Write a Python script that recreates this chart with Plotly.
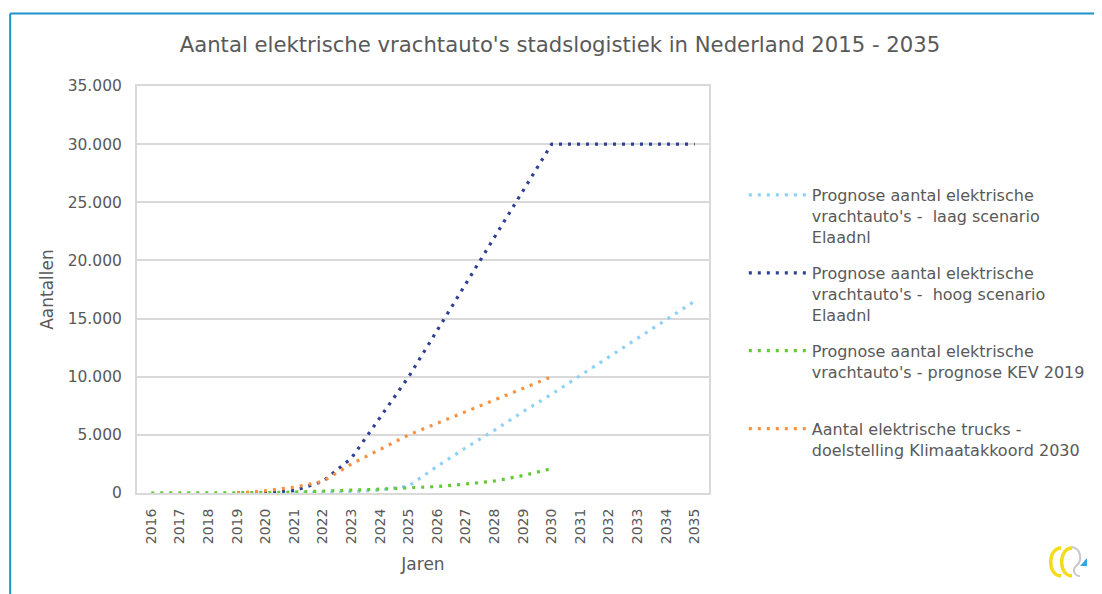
import plotly.graph_objects as go

years = [str(y) for y in range(2016, 2036)]

laag = [None, None, None, None, None, 0, 50, 100, 250, 600, 2300, 3900, 5400, 7000, 8500,
        10100, 11700, 13300, 14900, 16500]
hoog = [None, None, None, 0, 50, 200, 1000, 3000, 6500, 10000, 14000, 18000, 22000, 26000, 30000,
        30000, 30000, 30000, 30000, 30000]
kev = [0, 0, 0, 0, 30, 80, 150, 250, 330, 450, 550, 770, 1030, 1500, 2100,
       None, None, None, None, None]
klimaat = [None, None, None, 0, 200, 500, 1000, 2500, 3750, 5000, 6000, 7000, 8000, 9000, 10000,
           None, None, None, None, None]

names = [
    "Prognose aantal elektrische<br>vrachtauto's -  laag scenario<br>Elaadnl",
    "Prognose aantal elektrische<br>vrachtauto's -  hoog scenario<br>Elaadnl",
    "Prognose aantal elektrische<br>vrachtauto's - prognose KEV 2019<br>&nbsp;",
    "Aantal elektrische trucks -<br>doelstelling Klimaatakkoord 2030",
]
colors = ["#8DD1F8", "#2F3F93", "#62C834", "#F99240"]
series = [laag, hoog, kev, klimaat]

FONT = "DejaVu Sans"
GREY = "#595959"

# page body adds an 8px offset; work in figure coordinates
OFF = 8
W, H = 1102 - OFF, 594 - OFF
PL, PR, PT, PB = 137 - OFF, 712 - OFF, 86 - OFF, 493 - OFF
PW, PH = PR - PL, PB - PT


def px(x, y):
    """screen pixel -> paper coords"""
    return ((x - OFF) - PL) / PW, (PB - (y - OFF)) / PH


def path(pts_cmds):
    out = []
    for item in pts_cmds:
        if isinstance(item, str):
            out.append(item)
        else:
            xx, yy = px(*item)
            out.append(f"{xx:.5f},{yy:.5f}")
    return " ".join(out)


fig = go.Figure()
for i, (nm, c, s) in enumerate(zip(names, colors, series)):
    fig.add_trace(go.Scatter(
        x=years, y=s, name=nm, mode="lines", connectgaps=False,
        line=dict(color=c, width=3.2, dash="3px,6px"),
        legendgroup=f"g{i}",
    ))

bx0, by0 = px(9.5, 13.5)
bx1, by1 = px(1102, 594)
shapes = [
    dict(type="line", xref="paper", yref="paper", x0=bx0, x1=bx1, y0=by0, y1=by0,
         line=dict(color="#1E90CC", width=2)),
    dict(type="line", xref="paper", yref="paper", x0=bx0, x1=bx0, y0=by1, y1=by0,
         line=dict(color="#1E90CC", width=2)),
    # small logo
    dict(type="path", xref="paper", yref="paper",
         path=path(["M", (1066, 548), "C", (1052, 548), (1052, 576), (1066, 576)]),
         line=dict(color="#F2DC1C", width=3.5)),
    dict(type="path", xref="paper", yref="paper",
         path=path(["M", (1077, 548), "C", (1063, 548), (1063, 576), (1077, 576)]),
         line=dict(color="#F2DC1C", width=3.5)),
    dict(type="path", xref="paper", yref="paper",
         path=path(["M", (1077, 547), "C", (1087, 549), (1087, 562), (1081, 566),
                    "C", (1077, 570), (1079, 576), (1085, 576)]),
         line=dict(color="#C8C8C8", width=2)),
    dict(type="path", xref="paper", yref="paper",
         path=path(["M", (1085, 566), "L", (1092, 566), "L", (1092, 558), "Z"]),
         fillcolor="#2AA6E8", line=dict(width=0)),
]

fig.update_layout(
    width=W, height=H,
    margin=dict(l=PL, r=W - PR, t=PT, b=H - PB),
    paper_bgcolor="white", plot_bgcolor="white",
    separators=",.",
    font=dict(family=FONT, color=GREY, size=14),
    title=dict(text="Aantal elektrische vrachtauto's stadslogistiek in Nederland 2015 - 2035",
               x=(560 - OFF) / W, xref="container", xanchor="center",
               y=1 - (45 - OFF) / H, yanchor="middle",
               font=dict(family=FONT, size=21.2, color=GREY)),
    legend=dict(x=px(747, 0)[0], y=px(0, 178)[1], xanchor="left", yanchor="top",
                font=dict(family=FONT, size=16, color=GREY), tracegroupgap=12.5,
                valign="top", itemwidth=58,
                bgcolor="rgba(0,0,0,0)"),
    xaxis=dict(type="category", range=[-0.5, 19.5], tickangle=-90,
               showgrid=False, showline=True, linecolor="#D9D9D9", linewidth=2, mirror=True,
               ticks="", tickfont=dict(size=14, color=GREY), ticklabelstandoff=8,
               title=dict(text="Jaren", font=dict(size=17, color=GREY), standoff=15)),
    yaxis=dict(range=[0, 35000], dtick=5000, tickformat=",d",
               showgrid=True, gridcolor="#D9D9D9", gridwidth=2,
               showline=True, linecolor="#D9D9D9", linewidth=2, mirror=True,
               zeroline=False, ticks="", tickfont=dict(size=15.5, color=GREY),
               ticklabelstandoff=10,
               title=dict(text="Aantallen", font=dict(size=17, color=GREY), standoff=10)),
    shapes=shapes,
)

fig.write_html("out.html")
